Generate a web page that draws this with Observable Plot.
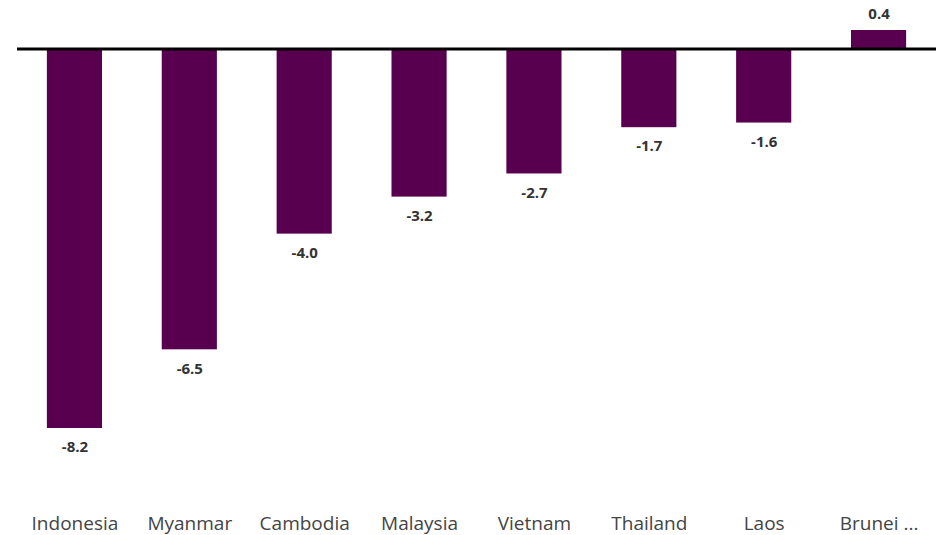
<!DOCTYPE html>
<html>
<head>
<meta charset="utf-8">
<script src="https://cdn.jsdelivr.net/npm/d3@7"></script>
<script src="https://cdn.jsdelivr.net/npm/@observablehq/plot@0.6"></script>
<style>
  html, body { margin: 0; padding: 0; background: #fff; }
  #chart svg { display: block; }
</style>
</head>
<body>
<div id="chart"></div>
<script>
const countries = ["Indonesia", "Myanmar", "Cambodia", "Malaysia", "Vietnam", "Thailand", "Laos", "Brunei Darussalam"];
const values = [-8.2, -6.5, -4.0, -3.2, -2.7, -1.7, -1.6, 0.4];

const data = countries.map((c, i) => ({country: c, value: values[i]}));
const truncate = d => d.length > 12 ? d.split(" ")[0] + " ..." : d;

const chart = Plot.plot({
  width: 938,
  height: 535,
  marginLeft: 17,
  marginRight: 2,
  marginTop: 30,
  marginBottom: 107,
  style: {fontFamily: "'Open Sans', 'Noto Sans', sans-serif", background: "#fff"},
  x: {domain: countries, paddingInner: 0.52, paddingOuter: 0.26, round: false, label: null},
  y: {domain: [-8.2, 0.4], axis: null},
  marks: [
    Plot.barY(data, {x: "country", y: "value", fill: "#58004f"}),
    Plot.ruleY([0], {stroke: "#000", strokeWidth: 3}),
    Plot.text(data.filter(d => d.value < 0), {
      x: "country", y: "value",
      text: d => d.value.toFixed(1),
      dy: 19,
      fontSize: 15, fontWeight: "bold", fill: "#333"
    }),
    Plot.text(data.filter(d => d.value >= 0), {
      x: "country", y: "value",
      text: d => d.value.toFixed(1),
      dy: -16,
      fontSize: 15, fontWeight: "bold", fill: "#333"
    }),
    Plot.axisX({tickSize: 0, tickPadding: 88, tickFormat: truncate, fontSize: 19, color: "#444", label: null})
  ]
});
document.getElementById("chart").append(chart);
</script>
</body>
</html>
